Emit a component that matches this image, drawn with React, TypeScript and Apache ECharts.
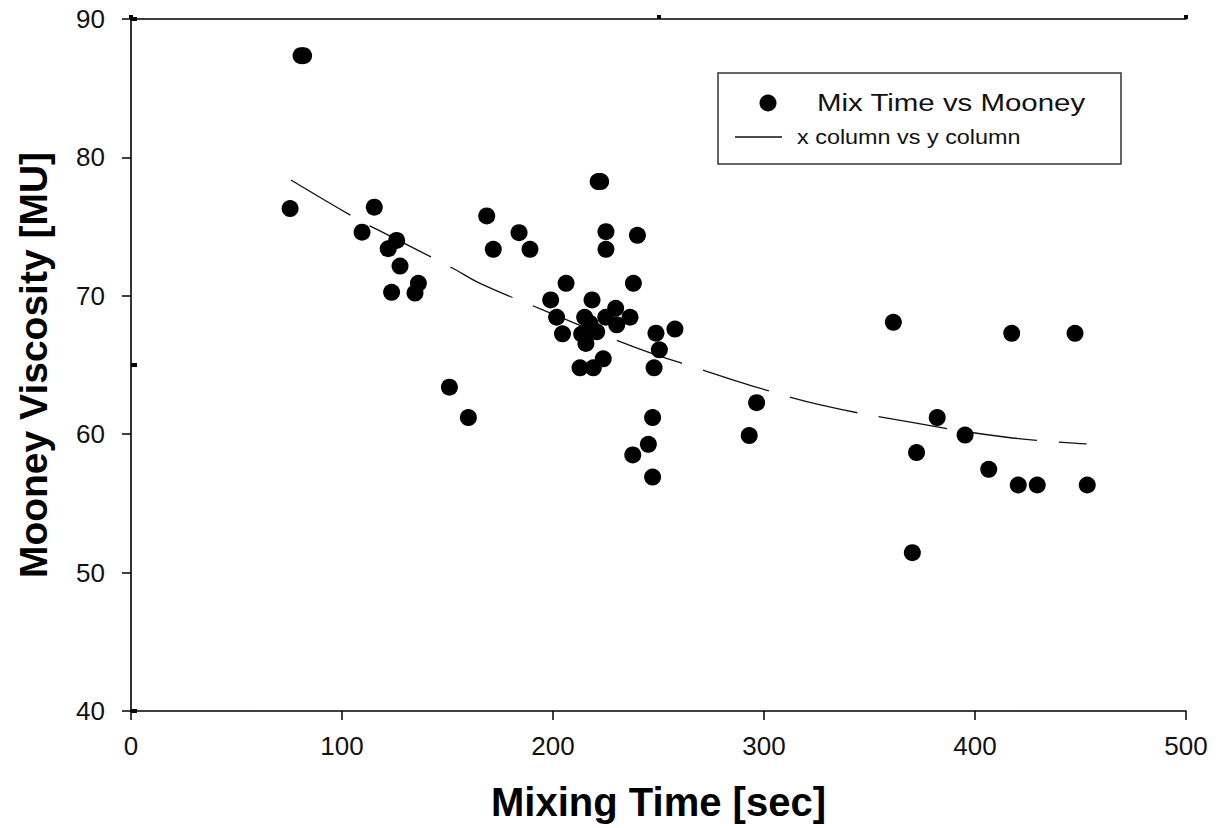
import React, { useEffect, useRef } from "react";
import * as echarts from "echarts";

// Measured points: Mixing time [sec] vs Mooney viscosity [MU]
const mixTime = [
  80.6, 81.8, 75.4, 115.3, 109.5, 125.9, 121.9, 127.5, 123.5, 136.2, 134.6, 150.9, 159.9,
  168.6, 171.7, 183.9, 189.1, 221.4, 222.6, 225.1, 225.1, 240.0, 206.2, 238.1, 198.9, 218.5,
  201.7, 204.5, 215.0, 229.7, 225.0, 236.5, 230.2, 213.6, 220.7, 215.6, 217.5, 248.8, 257.8,
  250.4, 247.9, 212.8, 219.1, 223.8, 247.2, 245.2, 237.8, 247.2, 361.3, 296.5, 293.0, 382.1,
  395.3, 372.3, 406.5, 370.3, 417.4, 447.4, 420.5, 429.5, 453.2,
];
const mooney = [
  87.35, 87.35, 76.3, 76.4, 74.6, 74.0, 73.4, 72.15, 70.25, 70.9, 70.2, 63.4, 61.2,
  75.77, 73.36, 74.56, 73.36, 78.25, 78.25, 74.63, 73.36, 74.37, 70.9, 70.9, 69.7, 69.7,
  68.45, 67.25, 68.45, 69.1, 68.45, 68.45, 67.9, 67.24, 67.4, 66.56, 68.0, 67.3, 67.6,
  66.1, 64.8, 64.8, 64.8, 65.45, 61.2, 59.27, 58.5, 56.9, 68.08, 62.28, 59.9, 61.2,
  59.94, 58.67, 57.46, 51.44, 67.29, 67.29, 56.33, 56.33, 56.33,
];

// Fitted curve
const fitX = [75.8, 108.5, 119.6, 152.5, 165.4, 195.4, 238.9, 269.7, 294.2, 327.3, 370.8, 415.0, 452.9];
const fitY = [78.37, 75.43, 74.56, 71.99, 70.9, 68.97, 66.28, 64.7, 63.5, 62.1, 60.83, 59.78, 59.3];

const scatterName = "Mix Time vs Mooney";
const lineName = "x column vs y column";
const xTitle = "Mixing Time [sec]";
const yTitle = "Mooney Viscosity [MU]";

const FONT = "'Liberation Sans', Arial, sans-serif";

export default function App() {
  const ref = useRef<HTMLDivElement>(null);

  useEffect(() => {
    if (!ref.current) return;
    const chart = echarts.init(ref.current, undefined, { renderer: "svg" });
    const scatterData = mixTime.map((x, i) => [x, mooney[i]]);
    const lineData = fitX.map((x, i) => [x, fitY[i]]);

    chart.setOption({
      animation: false,
      backgroundColor: "#ffffff",
      textStyle: { fontFamily: FONT },
      grid: { left: 131, right: 30, top: 19, bottom: 117, containLabel: false },
      xAxis: [
        {
          type: "value",
          min: 0,
          max: 500,
          interval: 100,
          position: "bottom",
          name: xTitle,
          nameLocation: "middle",
          nameGap: 71,
          nameTextStyle: { fontSize: 40, fontWeight: "bold", color: "#000", fontFamily: FONT },
          axisLine: { show: true, lineStyle: { color: "#000", width: 1.5 } },
          axisTick: { show: true, inside: false, length: 9, lineStyle: { color: "#000", width: 1.5 } },
          axisLabel: { fontSize: 26, color: "#111", margin: 22, fontFamily: FONT },
          splitLine: { show: false },
        },
        {
          type: "value",
          min: 0,
          max: 500,
          interval: 250,
          position: "top",
          axisLine: { show: true, lineStyle: { color: "#000", width: 1.5 } },
          axisTick: { show: true, inside: false, length: 4, lineStyle: { color: "#000", width: 4 } },
          axisLabel: { show: false },
          splitLine: { show: false },
        },
      ],
      yAxis: [
        {
          type: "value",
          min: 40,
          max: 90,
          interval: 10,
          position: "left",
          name: yTitle,
          nameLocation: "middle",
          nameGap: 78,
          nameRotate: 90,
          nameTextStyle: { fontSize: 39, fontWeight: "bold", color: "#000", fontFamily: FONT },
          axisLine: { show: true, lineStyle: { color: "#000", width: 1.5 } },
          axisTick: { show: true, inside: false, length: 9, lineStyle: { color: "#000", width: 1.5 } },
          axisLabel: { fontSize: 26, color: "#111", margin: 26, fontFamily: FONT },
          splitLine: { show: false },
        },
        {
          type: "value",
          min: 40,
          max: 90,
          interval: 25,
          position: "right",
          axisLine: { show: true, lineStyle: { color: "#333", width: 2 } },
          axisTick: { show: true, inside: false, length: 6, lineStyle: { color: "#000", width: 4 } },
          axisLabel: { show: false },
          splitLine: { show: false },
        },
      ],
      series: [
        {
          name: lineName,
          type: "line",
          xAxisIndex: 0,
          yAxisIndex: 0,
          data: lineData,
          smooth: 0.4,
          showSymbol: false,
          symbol: "none",
          lineStyle: { color: "#111", width: 1.3, type: [69, 22] },
          z: 2,
        },
        {
          name: scatterName,
          type: "scatter",
          xAxisIndex: 0,
          yAxisIndex: 0,
          data: scatterData,
          symbol: "circle",
          symbolSize: 17,
          itemStyle: { color: "#000", opacity: 1 },
          z: 3,
        },
      ],
      graphic: [
        {
          type: "rect",
          shape: { x: 718, y: 73, width: 403, height: 91 },
          style: { fill: "#fff", stroke: "#333", lineWidth: 1.5 },
          z: 10,
        },
        {
          type: "circle",
          shape: { cx: 768, cy: 103, r: 8.5 },
          style: { fill: "#000" },
          z: 11,
        },
        {
          type: "text",
          x: 817,
          y: 103,
          scaleX: 1.28,
          style: {
            text: scatterName,
            fontSize: 23,
            fontFamily: FONT,
            fill: "#111",
            verticalAlign: "middle",
            align: "left",
          },
          z: 11,
        },
        {
          type: "line",
          shape: { x1: 735, y1: 137, x2: 782, y2: 137 },
          style: { stroke: "#111", lineWidth: 1.3 },
          z: 11,
        },
        {
          type: "text",
          x: 797,
          y: 137,
          scaleX: 1.17,
          style: {
            text: lineName,
            fontSize: 20,
            fontFamily: FONT,
            fill: "#111",
            verticalAlign: "middle",
            align: "left",
          },
          z: 11,
        },
      ],
    });

    return () => chart.dispose();
  }, []);

  return (
    <div
      ref={ref}
      style={{ position: "fixed", left: 0, top: 0, width: 1216, height: 828, background: "#fff" }}
    />
  );
}
